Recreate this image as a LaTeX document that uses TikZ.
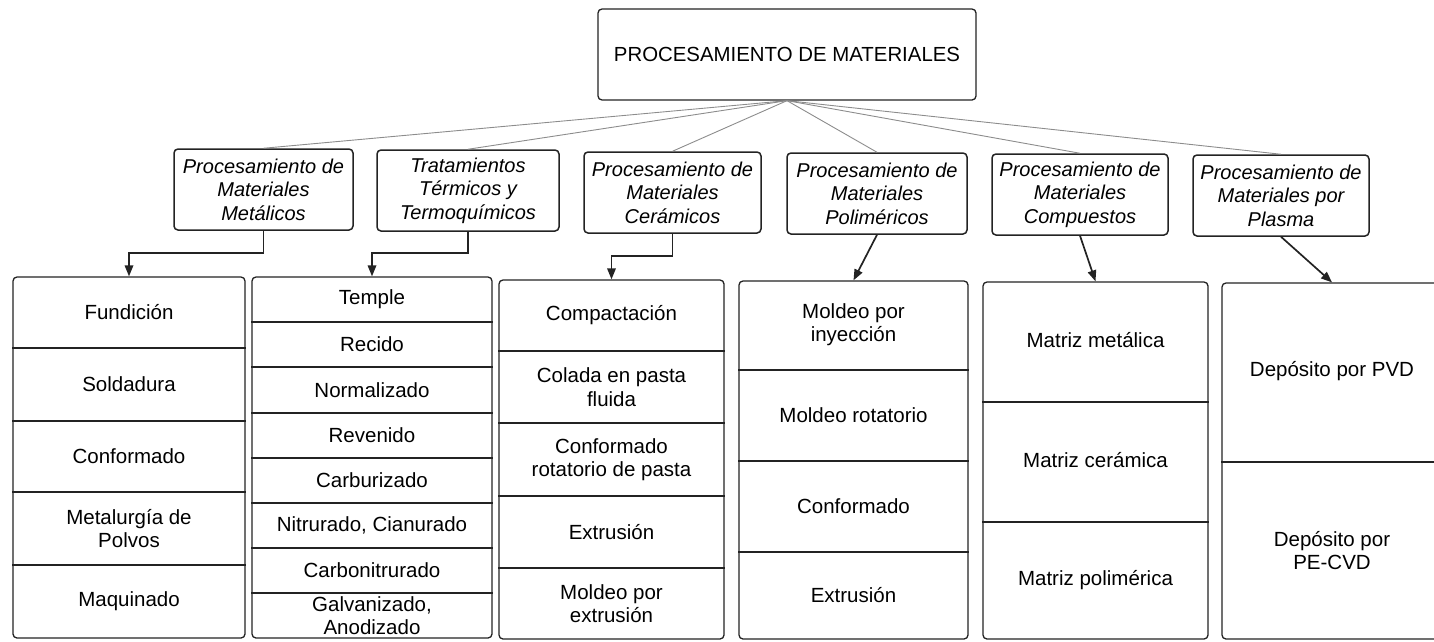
\documentclass[tikz,border=0pt]{standalone}
\usepackage{fontspec}
\setmainfont{Liberation Sans}
\usetikzlibrary{arrows.meta}
\definecolor{ink}{HTML}{232323}
\definecolor{thinline}{HTML}{8C8C8C}
\begin{document}
\begin{tikzpicture}[x=1pt,y=-1pt,
  titlebox/.style={draw=ink, line width=1.3pt, rounded corners=4pt, minimum width=378pt, minimum height=91pt, inner sep=0pt, font=\fontsize{20.4}{24}\selectfont},
  catbox/.style={draw=ink, line width=1.5pt, rounded corners=4pt, minimum height=81pt, inner sep=0pt, align=center, font=\fontsize{20}{23.5}\selectfont\itshape},
  colbox/.style={draw=ink, line width=1.3pt, rounded corners=4pt, inner sep=0pt},
  divider/.style={draw=ink, line width=1.2pt},
  rowtxt/.style={align=center, inner sep=0pt, font=\fontsize{20.5}{23.5}\selectfont},
  link/.style={draw=thinline, line width=0.9pt},
  conn/.style={draw=ink, line width=1.7pt, -{Triangle[length=11pt,width=8.5pt]}}
]
\useasboundingbox (0,0) rectangle (1434,641);
\clip (0,0) rectangle (1434,641);

% title
\node[titlebox] (top) at (787,54.5) {PROCESAMIENTO DE MATERIALES};

% categories
\node[catbox, minimum width=179pt] (b1) at (263.5,189.5) {Procesamiento de\\Materiales\\Metálicos};
\node[catbox, minimum width=182pt] (b2) at (468,190.5) {Tratamientos\\Térmicos y\\Termoquímicos};
\node[catbox, minimum width=177pt] (b3) at (672.5,192.5) {Procesamiento de\\Materiales\\Cerámicos};
\node[catbox, minimum width=180pt] (b4) at (877,193.5) {Procesamiento de\\Materiales\\Poliméricos};
\node[catbox, minimum width=176pt] (b5) at (1080,194.5) {Procesamiento de\\Materiales\\Compuestos};
\node[catbox, minimum width=176pt] (b6) at (1281,195.5) {Procesamiento de\\Materiales por\\Plasma};

\foreach \b in {b1,b2,b3,b4,b5,b6}
  \draw[link] (top.south) -- (\b.north);

% columns
\node[colbox, minimum width=232pt, minimum height=361pt] (col1) at (129,457.5) {};
\node[colbox, minimum width=240pt, minimum height=361pt] (col2) at (372,457.5) {};
\node[colbox, minimum width=225pt, minimum height=359pt] (col3) at (611.5,459.5) {};
\node[colbox, minimum width=229pt, minimum height=358pt] (col4) at (853.5,460) {};
\node[colbox, minimum width=225pt, minimum height=357pt] (col5) at (1095.5,460.5) {};
\node[colbox, minimum width=220pt, minimum height=356pt] (col6) at (1332,461) {};

% dividers
\foreach \y in {348,421,492,565}
  \draw[divider] (col1.west |- 0,\y) -- (col1.east |- 0,\y);
\foreach \y in {322,367,413,458,503,548,593}
  \draw[divider] (col2.west |- 0,\y) -- (col2.east |- 0,\y);
\foreach \y in {351,423,496,568}
  \draw[divider] (col3.west |- 0,\y) -- (col3.east |- 0,\y);
\foreach \y in {370,461,552}
  \draw[divider] (col4.west |- 0,\y) -- (col4.east |- 0,\y);
\foreach \y in {402,522}
  \draw[divider] (col5.west |- 0,\y) -- (col5.east |- 0,\y);
\draw[divider] (col6.west |- 0,462) -- (col6.east |- 0,462);

% row texts column 1
\node[rowtxt] (c1a) at (col1 |- 0,312.5) {Fundición};
\node[rowtxt] (c1b) at (col1 |- 0,384.5) {Soldadura};
\node[rowtxt] (c1c) at (col1 |- 0,456.5) {Conformado};
\node[rowtxt] (c1d) at (col1 |- 0,528.5) {Metalurgía de\\Polvos};
\node[rowtxt] (c1e) at (col1 |- 0,601.5) {Maquinado};
% column 2
\node[rowtxt] (c2a) at (col2 |- 0,299.5) {Temple};
\node[rowtxt] (c2b) at (col2 |- 0,344.5) {Recido};
\node[rowtxt] (c2c) at (col2 |- 0,390) {Normalizado};
\node[rowtxt] (c2d) at (col2 |- 0,435.5) {Revenido};
\node[rowtxt] (c2e) at (col2 |- 0,480.5) {Carburizado};
\node[rowtxt] (c2f) at (col2 |- 0,525.5) {Nitrurado, Cianurado};
\node[rowtxt] (c2g) at (col2 |- 0,570.5) {Carbonitrurado};
\node[rowtxt] (c2h) at (col2 |- 0,615.5) {Galvanizado,\\Anodizado};
% column 3
\node[rowtxt] (c3a) at (col3 |- 0,315.5) {Compactación};
\node[rowtxt] (c3b) at (col3 |- 0,387) {Colada en pasta\\fluida};
\node[rowtxt] (c3c) at (col3 |- 0,459.5) {Conformado\\rotatorio de pasta};
\node[rowtxt] (c3d) at (col3 |- 0,532) {Extrusión};
\node[rowtxt] (c3e) at (col3 |- 0,603.5) {Moldeo por\\extrusión};
% column 4
\node[rowtxt] (c4a) at (col4 |- 0,324.5) {Moldeo por\\inyección};
\node[rowtxt] (c4b) at (col4 |- 0,415.5) {Moldeo rotatorio};
\node[rowtxt] (c4c) at (col4 |- 0,506.5) {Conformado};
\node[rowtxt] (c4d) at (col4 |- 0,595.5) {Extrusión};
% column 5
\node[rowtxt] (c5a) at (col5 |- 0,340) {Matriz metálica};
\node[rowtxt] (c5b) at (col5 |- 0,460) {Matriz cerámica};
\node[rowtxt] (c5c) at (col5 |- 0,580.5) {Matriz polimérica};
% column 6
\node[rowtxt] (c6a) at (col6 |- 0,371) {Depósito por PVD};
\node[rowtxt] (c6b) at (col6 |- 0,550.5) {Depósito por\\PE-CVD};

% connectors
\draw[conn] (b1.south) -- ++(0,22) -| (col1.north);
\draw[conn] (b2.south) -- ++(0,21) -| (col2.north);
\draw[conn] (b3.south) -- ++(0,22) -| (col3.north);
\draw[conn] (b4.south) -- (col4.north);
\draw[conn] (b5.south) -- (col5.north);
\draw[conn] (b6.south) -- (col6.north);
\end{tikzpicture}
\end{document}
